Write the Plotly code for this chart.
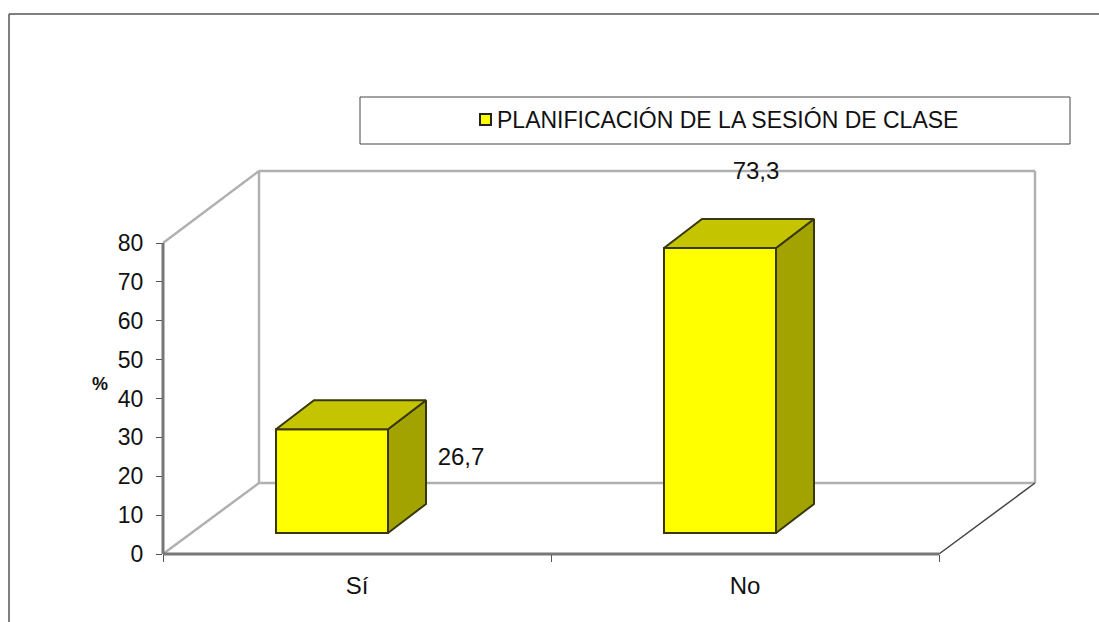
import plotly.graph_objects as go

# --- Data ---
categories = ["Sí", "No"]
values = [26.7, 73.3]
value_labels = ["26,7", "73,3"]
y_ticks = [0, 10, 20, 30, 40, 50, 60, 70, 80]
series_name = "PLANIFICACIÓN DE LA SESIÓN DE CLASE"

# --- Page geometry (pixels) ---
W, H = 1099, 622
LEFT, RIGHT, TOP, BOTTOM = 163, 1035, 171, 554
PX_PER_CAT = 388.0
PX_PER_UNIT = 311 / 80


def px_x(px):
    return (px - LEFT) / (RIGHT - LEFT)


def px_y(px):
    return (BOTTOM - px) / (BOTTOM - TOP)


# fake 3D offsets, in axis units
WALL_DX = (RIGHT - LEFT - 2 * PX_PER_CAT) / PX_PER_CAT
WALL_DY = 71 / PX_PER_UNIT
BAR_DX = 38 / PX_PER_CAT
BAR_DY = 29 / PX_PER_UNIT
BAR_BASE = 21 / PX_PER_UNIT
BAR_WIDTH = 112 / PX_PER_CAT
BAR_OFFSET = -81 / PX_PER_CAT

X_MIN = -0.5
X_MAX = X_MIN + (RIGHT - LEFT) / PX_PER_CAT
X_END = 1.5
Y_MAX = (BOTTOM - TOP) / PX_PER_UNIT

FONT = "Liberation Sans, Arial, sans-serif"
TEXT = "#111111"
EDGE = "#38380c"
YELLOW = "#ffff00"
TOP_FACE = "#c4c400"
SIDE_FACE = "#a3a300"

xs = list(range(len(categories)))

fig = go.Figure()

# front faces
fig.add_trace(
    go.Bar(
        x=xs,
        y=values,
        base=BAR_BASE,
        width=BAR_WIDTH,
        offset=BAR_OFFSET,
        name=series_name,
        marker=dict(color=YELLOW, line=dict(color=EDGE, width=2)),
        showlegend=False,
    )
)

# side and top faces
for x, v in zip(xs, values):
    x0 = x + BAR_OFFSET
    x1 = x0 + BAR_WIDTH
    y0 = BAR_BASE
    y1 = BAR_BASE + v
    fig.add_trace(
        go.Scatter(
            x=[x1, x1 + BAR_DX, x1 + BAR_DX, x1, x1],
            y=[y0, y0 + BAR_DY, y1 + BAR_DY, y1, y0],
            mode="lines",
            fill="toself",
            fillcolor=SIDE_FACE,
            line=dict(color=EDGE, width=2),
            showlegend=False,
            hoverinfo="skip",
        )
    )
    fig.add_trace(
        go.Scatter(
            x=[x0, x1, x1 + BAR_DX, x0 + BAR_DX, x0],
            y=[y1, y1, y1 + BAR_DY, y1 + BAR_DY, y1],
            mode="lines",
            fill="toself",
            fillcolor=TOP_FACE,
            line=dict(color=EDGE, width=2),
            showlegend=False,
            hoverinfo="skip",
        )
    )

# value labels (the source placed them by hand, not on the bars)
fig.add_trace(
    go.Scatter(
        x=[(461 - 357) / PX_PER_CAT, 1 + (756 - 745) / PX_PER_CAT],
        y=[(BOTTOM - 458.5) / PX_PER_UNIT, (BOTTOM - 173) / PX_PER_UNIT],
        mode="text",
        text=value_labels,
        textposition="middle center",
        textfont=dict(family=FONT, size=24, color=TEXT),
        cliponaxis=False,
        showlegend=False,
        hoverinfo="skip",
    )
)


def wall_line(x0, y0, x1, y1, color="#b0b0b0", width=2.5):
    # paper refs because shapes on x/y get clipped at the plot edge
    span_x = X_MAX - X_MIN
    fig.add_shape(
        type="line", xref="paper", yref="paper",
        x0=(x0 - X_MIN) / span_x, y0=y0 / Y_MAX,
        x1=(x1 - X_MIN) / span_x, y1=y1 / Y_MAX,
        line=dict(color=color, width=width), layer="below",
    )


# back wall, side wall, floor
wall_line(X_MIN + WALL_DX, WALL_DY, X_MIN + WALL_DX, Y_MAX)
wall_line(X_MIN + WALL_DX, Y_MAX, X_MAX, Y_MAX)
wall_line(X_MAX, Y_MAX, X_MAX, WALL_DY)
wall_line(X_MIN + WALL_DX, WALL_DY, X_MAX, WALL_DY)
wall_line(X_MIN, 80, X_MIN + WALL_DX, Y_MAX)
wall_line(X_MIN, 0, X_MIN + WALL_DX, WALL_DY)
wall_line(X_END, 0, X_MAX, WALL_DY, color="#444444", width=1.5)
# axis lines stop short of the wall depth, so they are drawn here
wall_line(X_MIN, 0, X_MIN, 80, color="#777777", width=3)
wall_line(X_MIN, 0, X_END, 0, color="#777777", width=3)

# page border, open at the right and the bottom
fig.add_shape(
    type="line", xref="paper", yref="paper",
    x0=px_x(9), y0=px_y(14), x1=px_x(W), y1=px_y(14),
    line=dict(color="#555555", width=1.5),
)
fig.add_shape(
    type="line", xref="paper", yref="paper",
    x0=px_x(9), y0=px_y(14), x1=px_x(9), y1=px_y(H),
    line=dict(color="#555555", width=1.5),
)

# legend box
fig.add_shape(
    type="rect", xref="paper", yref="paper",
    x0=px_x(360), y0=px_y(97), x1=px_x(1070), y1=px_y(144),
    line=dict(color="#444444", width=1), fillcolor="white",
)
fig.add_shape(
    type="rect", xref="paper", yref="paper",
    x0=px_x(480), y0=px_y(114), x1=px_x(491), y1=px_y(125),
    line=dict(color="#222222", width=2), fillcolor=YELLOW,
)
fig.add_annotation(
    text=series_name, xref="paper", yref="paper",
    x=px_x(495), y=px_y(120), xanchor="left", yanchor="middle",
    showarrow=False, font=dict(family=FONT, size=23, color=TEXT),
)

# axis title
fig.add_annotation(
    text="<b>%</b>", xref="paper", yref="paper",
    x=px_x(100), y=px_y(384), xanchor="center", yanchor="middle",
    showarrow=False, font=dict(family=FONT, size=18, color=TEXT),
)

fig.update_xaxes(
    range=[X_MIN, X_MAX],
    tickmode="array",
    tickvals=xs,
    ticktext=categories,
    ticks="",
    ticklabelstandoff=15,
    tickfont=dict(family=FONT, size=24, color=TEXT),
    showgrid=False,
    zeroline=False,
    showline=False,
    minor=dict(
        tick0=X_MIN, dtick=1, ticks="outside", ticklen=7,
        tickcolor="#555555", tickwidth=1, showgrid=False,
    ),
)
fig.update_yaxes(
    range=[0, Y_MAX],
    tickmode="array",
    tickvals=y_ticks,
    ticks="outside",
    ticklen=6,
    tickcolor="#555555",
    ticklabelstandoff=8,
    tickfont=dict(family=FONT, size=23, color=TEXT),
    showgrid=False,
    zeroline=False,
    showline=False,
)
fig.update_layout(
    width=W,
    height=H,
    margin=dict(l=LEFT, r=W - RIGHT, t=TOP, b=H - BOTTOM, pad=0),
    paper_bgcolor="white",
    plot_bgcolor="white",
    showlegend=False,
    barmode="overlay",
)

fig.write_html(
    "out.html",
    config={"displayModeBar": False},
    post_script="document.body.style.margin='0';",
)
